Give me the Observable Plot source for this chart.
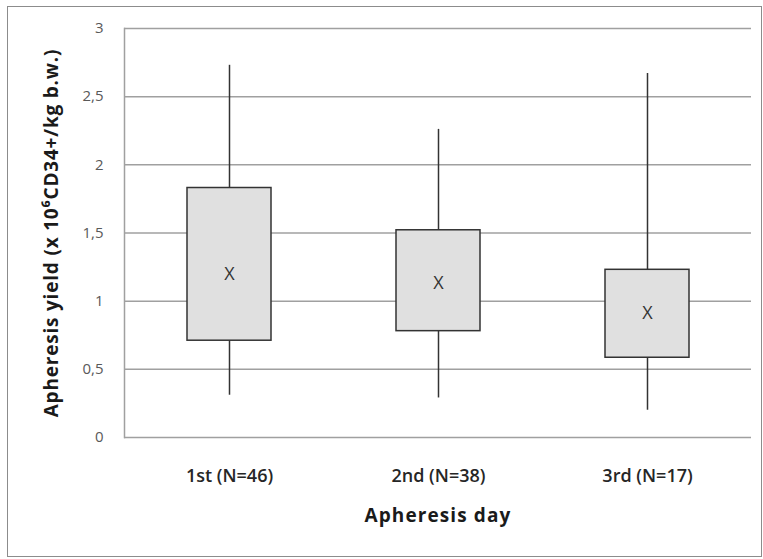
<!DOCTYPE html>
<html>
<head>
<meta charset="utf-8">
<script src="https://cdn.jsdelivr.net/npm/d3@7"></script>
<script src="https://cdn.jsdelivr.net/npm/@observablehq/plot@0.6"></script>
<style>
  html, body { margin: 0; padding: 0; background: #fff; }
  #wrap { position: relative; width: 763px; height: 559px; }
  #border { position: absolute; left: 7px; top: 6px; width: 755px; height: 551px; border: 1.5px solid #8c8c8c; box-sizing: border-box; }
  #chart { position: absolute; left: 0; top: 0; }
  .xtitle text, text.xtitle { letter-spacing: 1.1px; }
  .ytitle text, text.ytitle { letter-spacing: 0.8px; }
</style>
</head>
<body>
<div id="wrap"><div id="border"></div><div id="chart"></div></div>
<script>
const days = ["1st (N=46)", "2nd (N=38)", "3rd (N=17)"];
const whiskerLow = [0.31, 0.29, 0.20];
const q1 = [0.71, 0.78, 0.585];
const q3 = [1.83, 1.52, 1.23];
const whiskerHigh = [2.73, 2.26, 2.67];
const means = [1.20, 1.13, 0.91];
const yTicks = [0, 0.5, 1, 1.5, 2, 2.5, 3];

const rows = days.map((d, i) => ({
  day: d, low: whiskerLow[i], q1: q1[i], q3: q3[i], high: whiskerHigh[i], mean: means[i]
}));

const fmt = v => String(v).replace(".", ",");
const font = "'Open Sans', sans-serif";

const chart = Plot.plot({
  width: 763,
  height: 559,
  marginLeft: 124,
  marginRight: 12,
  marginTop: 28,
  marginBottom: 122,
  style: { fontFamily: font, background: "transparent", overflow: "visible" },
  x: { domain: days, paddingInner: 0.6, paddingOuter: 0.3, label: null },
  y: { domain: [0, 3], label: null },
  marks: [
    Plot.ruleY(yTicks.filter(v => v > 0), { stroke: "#a0a0a0", strokeWidth: 1.5 }),
    Plot.ruleY([0], { stroke: "#a0a0a0", strokeWidth: 1.5 }),
    Plot.frame({ anchor: "left", stroke: "#a0a0a0", strokeWidth: 1.5 }),
    Plot.ruleX(rows, { x: "day", y1: "low", y2: "q1", stroke: "#333", strokeWidth: 1.5 }),
    Plot.ruleX(rows, { x: "day", y1: "q3", y2: "high", stroke: "#333", strokeWidth: 1.5 }),
    Plot.barY(rows, { x: "day", y1: "q1", y2: "q3", fill: "#e0e0e0", stroke: "#333", strokeWidth: 1.5 }),
    Plot.text(rows, { x: "day", y: "mean", text: () => "X", fontSize: 18, fill: "#333", fontFamily: font }),
    Plot.axisY({ ticks: yTicks, tickFormat: fmt, tickSize: 0, tickPadding: 21, fontSize: 15, fill: "#595959", label: null }),
    Plot.axisX({ tickSize: 0, tickPadding: 32, fontSize: 18, fontWeight: 600, fill: "#262626", label: null }),
    Plot.text(["Apheresis day"], { frameAnchor: "bottom", dy: 84, text: d => d, fontSize: 19, fontWeight: "bold", fill: "#1a1a1a", className: "xtitle" }),
    Plot.text(["Apheresis yield (x 10⁶CD34+/kg b.w.)"], { frameAnchor: "left", textAnchor: "middle", dx: -73, rotate: -90, text: d => d, fontSize: 19, fontWeight: "bold", fill: "#1a1a1a", className: "ytitle" })
  ]
});
document.getElementById("chart").appendChild(chart);
// fallback in case className is not supported on marks
d3.select(chart).selectAll("text").each(function() {
  const t = this.textContent;
  if (t === "Apheresis day") this.style.letterSpacing = "1.1px";
  else if (t.startsWith("Apheresis yield")) this.style.letterSpacing = "0.8px";
});
</script>
</body>
</html>
